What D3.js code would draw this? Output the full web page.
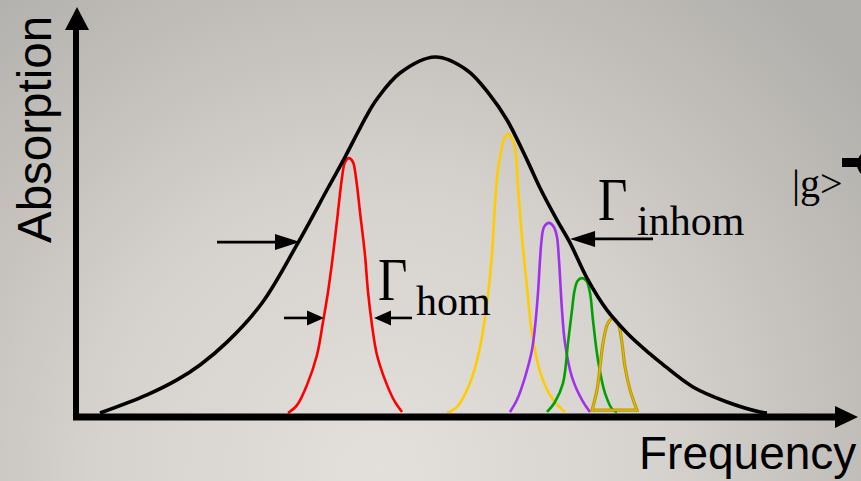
<!DOCTYPE html>
<html>
<head>
<meta charset="utf-8">
<script src="https://cdn.jsdelivr.net/npm/d3@7"></script>
<style>
  html, body { margin: 0; padding: 0; overflow: hidden; }
  svg { display: block; }
</style>
</head>
<body>
<svg width="861" height="481"></svg>
<script>
// curves: [frequency, absorption]
var inhomCurve = [[0.295,0],[0.897,0.051],[1.282,0.093],[1.577,0.135],[1.923,0.199],[2.372,0.309],
  [2.833,0.478],[3.218,0.632],[3.436,0.719],[3.718,0.837],[3.846,0.882],[4.141,0.955],[4.590,1.000],
  [5.000,0.963],[5.295,0.893],[5.513,0.823],[5.769,0.711],[5.936,0.632],[6.154,0.542],[6.321,0.478],
  [6.538,0.379],[6.795,0.289],[7.051,0.225],[7.346,0.166],[7.474,0.143],[7.897,0.073],[8.333,0.031],
  [8.756,0.003],[8.846,0]];

var redPeak = [[2.705,0],[2.821,0.022],[2.949,0.079],[3.077,0.163],[3.154,0.256],[3.218,0.340],
  [3.282,0.444],[3.346,0.565],[3.397,0.660],[3.436,0.705],[3.487,0.716],[3.538,0.705],[3.577,0.660],
  [3.628,0.565],[3.692,0.444],[3.731,0.340],[3.782,0.247],[3.846,0.163],[3.974,0.079],[4.077,0.031],
  [4.167,0.003]];

var yellowPeak = [[4.744,0],[4.872,0.017],[5.038,0.084],[5.167,0.185],[5.256,0.309],[5.321,0.449],
  [5.359,0.590],[5.397,0.683],[5.449,0.747],[5.474,0.770],[5.526,0.784],[5.577,0.770],[5.615,0.747],
  [5.654,0.635],[5.705,0.494],[5.769,0.354],[5.833,0.225],[5.949,0.107],[6.103,0.037],[6.256,0.003]];

var purplePeak = [[5.551,0.003],[5.641,0.037],[5.744,0.101],[5.833,0.177],[5.872,0.242],[5.910,0.337],
  [5.936,0.430],[5.955,0.483],[5.987,0.522],[6.051,0.534],[6.115,0.522],[6.154,0.494],[6.179,0.430],
  [6.218,0.289],[6.256,0.197],[6.346,0.101],[6.474,0.037],[6.577,0.003]];

var greenPeak = [[6.026,0.003],[6.128,0.031],[6.231,0.084],[6.295,0.197],[6.346,0.289],[6.378,0.343],
  [6.417,0.371],[6.474,0.379],[6.532,0.371],[6.577,0.337],[6.615,0.261],[6.679,0.149],[6.769,0.056],
  [6.872,0.008],[6.923,0.003]];

var olivePeak = [[6.603,0.008],[6.667,0.065],[6.705,0.129],[6.744,0.197],[6.795,0.247],[6.833,0.261],
  [6.872,0.267],[6.910,0.261],[6.949,0.244],[6.987,0.197],[7.026,0.129],[7.090,0.065],[7.179,0.008]];

var peakColors = ["#ff0000", "#ffcc00", "#a030ee", "#00a000", "#c8a600"];

// width arrows: [tail x, tip x, y]
var inhomArrows = [[1.795, 2.859, 0.480], [7.385, 6.321, 0.489]];
var homArrows = [[2.654, 3.167, 0.267], [4.295, 3.808, 0.267]];

var svg = d3.select("svg"),
    width = +svg.attr("width"),
    height = +svg.attr("height");

var x = d3.scaleLinear().domain([0, 10]).range([77, 857]);
var y = d3.scaleLinear().domain([0, 1]).range([413, 57]);

// background
var defs = svg.append("defs");
var grad = defs.append("radialGradient")
    .attr("id", "bg")
    .attr("gradientUnits", "userSpaceOnUse")
    .attr("cx", 380).attr("cy", 470).attr("r", 620);
grad.append("stop").attr("offset", "0").attr("stop-color", "#e3dfdb");
grad.append("stop").attr("offset", "0.45").attr("stop-color", "#d6d2ce");
grad.append("stop").attr("offset", "1").attr("stop-color", "#b2b0ac");
svg.append("rect").attr("width", width).attr("height", height).attr("fill", "url(#bg)");

var line = d3.line()
    .x(function(d) { return x(d[0]); })
    .y(function(d) { return y(d[1]); })
    .curve(d3.curveCatmullRom.alpha(0.5));

// narrow peaks
var peaks = [redPeak, yellowPeak, purplePeak, greenPeak];
svg.append("g").selectAll("path")
  .data(peaks)
  .enter().append("path")
    .attr("d", function(d) { return line(d); })
    .attr("fill", "none")
    .attr("stroke", function(d, i) { return peakColors[i]; })
    .attr("stroke-width", 2.6);

svg.append("path")
    .attr("d", line(olivePeak) + "Z")
    .attr("fill", "none")
    .attr("stroke", "#b89800")
    .attr("stroke-width", 3.2);
svg.append("path")
    .attr("d", line(olivePeak) + "Z")
    .attr("fill", "none")
    .attr("stroke", "#e0bc10")
    .attr("stroke-width", 1.2);

// broad inhomogeneous envelope
svg.append("path")
    .attr("d", line(inhomCurve))
    .attr("fill", "none")
    .attr("stroke", "#000")
    .attr("stroke-width", 3.6);

// axes
var x0 = x.range()[0], xEnd = x.range()[1], y0 = y.range()[0];
svg.append("line")
    .attr("x1", x0 - 1).attr("x2", x0 - 1)
    .attr("y1", y0 + 7).attr("y2", 26)
    .attr("stroke", "#000").attr("stroke-width", 6);
svg.append("path")
    .attr("d", "M" + x0 + ",7L" + (x0 - 12) + ",30L" + (x0 + 12) + ",30Z")
    .attr("fill", "#000");
svg.append("line")
    .attr("x1", x0 - 4).attr("x2", xEnd - 20)
    .attr("y1", y0 + 4).attr("y2", y0 + 4)
    .attr("stroke", "#000").attr("stroke-width", 7);
svg.append("path")
    .attr("d", "M" + (xEnd + 1) + "," + (y0 + 4) + "L" + (xEnd - 22) + "," + (y0 - 7) +
               "L" + (xEnd - 22) + "," + (y0 + 15) + "Z")
    .attr("fill", "#000");

// arrows
function arrow(a, head, half) {
  var dir = a[1] > a[0] ? 1 : -1;
  var tip = x(a[1]), yy = y(a[2]);
  svg.append("line")
      .attr("x1", x(a[0])).attr("x2", tip - dir * head * 0.6)
      .attr("y1", yy).attr("y2", yy)
      .attr("stroke", "#000").attr("stroke-width", 2.6);
  svg.append("path")
      .attr("d", "M" + tip + "," + yy + "L" + (tip - dir * head) + "," + (yy - half) +
                 "L" + (tip - dir * head) + "," + (yy + half) + "Z")
      .attr("fill", "#000");
}
inhomArrows.forEach(function(a) { arrow(a, 25, 8); });
homArrows.forEach(function(a) { arrow(a, 17, 7.5); });

// labels
svg.append("text")
    .attr("transform", "translate(51,243) rotate(-90)")
    .attr("font-family", "Liberation Sans, Arial, sans-serif")
    .attr("font-size", 47.5)
    .text("Absorption");
svg.append("text")
    .attr("x", 639).attr("y", 469)
    .attr("font-family", "Liberation Sans, Arial, sans-serif")
    .attr("font-size", 46)
    .text("Frequency");

var serif = "Liberation Serif, Times New Roman, serif";
svg.append("text")
    .attr("transform", "translate(378,300) scale(0.82,1)")
    .attr("font-family", serif).attr("font-size", 62)
    .text("Γ");
svg.append("text")
    .attr("x", 416).attr("y", 315)
    .attr("font-family", serif).attr("font-size", 42)
    .text("hom");
svg.append("text")
    .attr("transform", "translate(598,220) scale(0.82,1)")
    .attr("font-family", serif).attr("font-size", 62)
    .text("Γ");
svg.append("text")
    .attr("x", 637).attr("y", 235)
    .attr("font-family", serif).attr("font-size", 42)
    .text("inhom");

svg.append("text")
    .attr("x", 792).attr("y", 197)
    .attr("font-family", serif).attr("font-size", 40)
    .text("|g>");
svg.append("line")
    .attr("x1", 842).attr("x2", 861)
    .attr("y1", 162.5).attr("y2", 162.5)
    .attr("stroke", "#000").attr("stroke-width", 9);
svg.append("circle")
    .attr("cx", 871).attr("cy", 164).attr("r", 14)
    .attr("fill", "#000");
</script>
</body>
</html>
